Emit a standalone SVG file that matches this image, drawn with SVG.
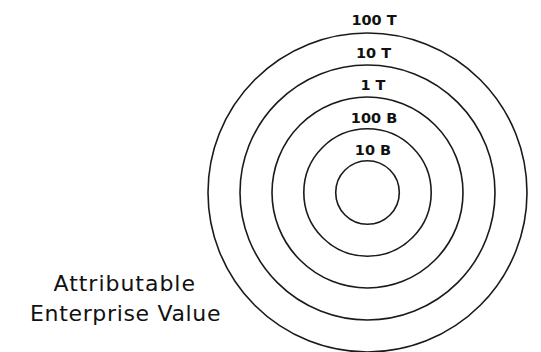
<svg xmlns="http://www.w3.org/2000/svg" width="541" height="352" viewBox="0 0 541 352">
<style>
.ring{fill:none;stroke:#1a1a1a;stroke-width:1.6}
.lbl{font-family:"DejaVu Sans","Liberation Sans",sans-serif;font-weight:700;font-size:14.5px;fill:#111;text-anchor:middle}
.cap{font-family:"DejaVu Sans","Liberation Sans",sans-serif;font-weight:400;font-size:22px;fill:#111}
</style>
<rect width="541" height="352" fill="#fff"/>
<g id="ring-100T"><circle class="ring" cx="367.5" cy="192.5" r="159.5"/><text class="lbl" x="374" y="25">100 T</text></g>
<g id="ring-10T"><circle class="ring" cx="367.5" cy="192.5" r="127.5"/><text class="lbl" x="373.5" y="57.5">10 T</text></g>
<g id="ring-1T"><circle class="ring" cx="367.5" cy="192.5" r="95.5"/><text class="lbl" x="373" y="90">1 T</text></g>
<g id="ring-100B"><circle class="ring" cx="367.5" cy="192.5" r="63.7"/><text class="lbl" x="374" y="122.5">100 B</text></g>
<g id="ring-10B"><circle class="ring" cx="367.5" cy="192.5" r="31.8"/><text class="lbl" x="373" y="155">10 B</text></g>
<g id="caption"><text class="cap" x="53.5" y="291" textLength="141.5" lengthAdjust="spacing">Attributable</text><text class="cap" x="30" y="320.5" textLength="190.5" lengthAdjust="spacing">Enterprise Value</text></g>
</svg>
